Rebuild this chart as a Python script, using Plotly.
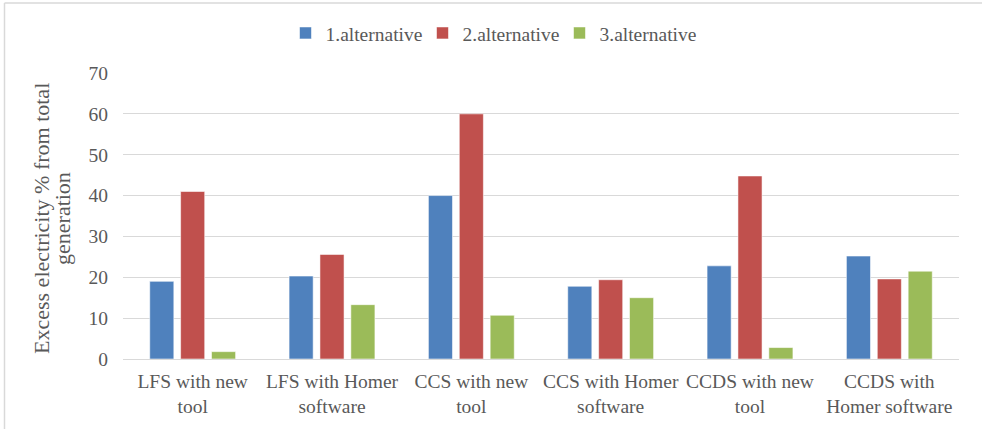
import plotly.graph_objects as go

categories = ["LFS with new<br>tool", "LFS with Homer<br>software", "CCS with new<br>tool",
              "CCS with Homer<br>software", "CCDS with new<br>tool", "CCDS with<br>Homer software"]
series_names = ["1.alternative", "2.alternative", "3.alternative"]
alt1 = [19, 20.3, 40, 17.8, 22.8, 25.2]
alt2 = [41, 25.6, 60, 19.4, 44.8, 19.6]
alt3 = [1.8, 13.3, 10.7, 15, 2.8, 21.5]
colors = ["#4F81BD", "#C0504D", "#9BBB59"]
y_ticks = [0, 10, 20, 30, 40, 50, 60, 70]
y_title_lines = ["Excess electricity % from total", "generation"]

FONT = "Liberation Serif"
GREY = "#595959"
FS = 19.5

fig = go.Figure()
for name, vals, col in zip(series_names, [alt1, alt2, alt3], colors):
    fig.add_trace(go.Bar(
        x=categories, y=vals, name=name,
        marker=dict(color=col, line=dict(color="rgba(255,255,255,0.55)", width=1)),
    ))

L, R, T, B = 123, 23, 73, 68
W, H = 982, 429
pw, ph = W - L - R, H - T - B

def px_x(p):
    return (p - L) / pw

def px_y(p):
    return (H - B - p) / ph

fig.update_layout(
    width=W, height=H,
    margin=dict(l=L, r=R, t=T, b=B, pad=0),
    paper_bgcolor="white", plot_bgcolor="white",
    barmode="group", bargap=0.335, bargroupgap=0.22,
    font=dict(family=FONT, size=FS, color=GREY),
    legend=dict(orientation="h", x=px_x(491), xanchor="center", y=px_y(33), yanchor="middle",
                font=dict(family=FONT, size=FS, color=GREY), traceorder="normal",
                itemwidth=30, tracegroupgap=0, entrywidth=92, entrywidthmode="pixels"),
    showlegend=True,
)
fig.update_xaxes(
    showgrid=False, showline=True, linecolor="#D9D9D9", linewidth=1.3,
    ticks="", ticklabelstandoff=4, tickfont=dict(family=FONT, size=FS, color=GREY),
)
fig.update_yaxes(
    range=[0, 70], tickvals=y_ticks, showgrid=True, gridcolor="#D9D9D9", gridwidth=1.3,
    zeroline=False, showline=False, ticks="", ticklabelstandoff=14,
    tickfont=dict(family=FONT, size=FS, color=GREY),
)
for line_text, xpix in zip(y_title_lines, [42, 63]):
    fig.add_annotation(
        text=line_text, textangle=-90, xref="paper", yref="paper",
        x=px_x(xpix), y=px_y(220), xanchor="center", yanchor="middle", showarrow=False,
        font=dict(family=FONT, size=22, color=GREY),
    )
# chart-area border (top and left visible)
fig.add_shape(type="line", xref="paper", yref="paper", x0=px_x(4.5), x1=px_x(4.5),
              y0=px_y(440), y1=px_y(2.5), line=dict(color="#D9D9D9", width=1.5))
fig.add_shape(type="line", xref="paper", yref="paper", x0=px_x(4.5), x1=px_x(1000),
              y0=px_y(2.5), y1=px_y(2.5), line=dict(color="#D9D9D9", width=1.5))

fig.write_html("out.html", config={"displayModeBar": False},
               post_script="document.body.style.margin='0px';")
